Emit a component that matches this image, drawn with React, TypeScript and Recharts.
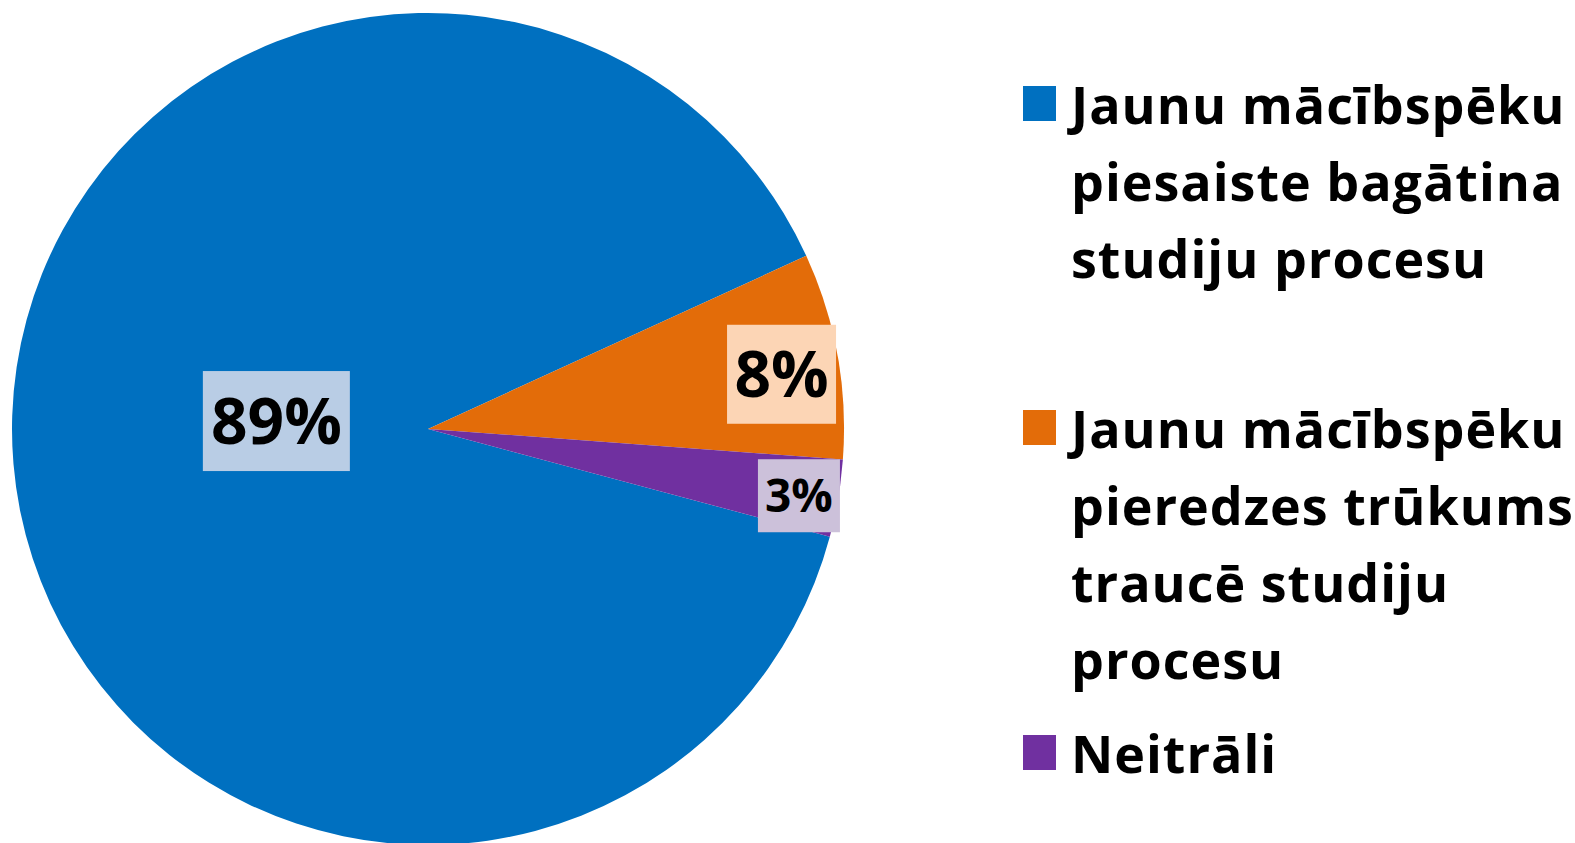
import { Cell, Legend, Pie, PieChart } from "recharts";

const categories = [
  "Jaunu mācībspēku\npiesaiste bagātina\nstudiju procesu",
  "Jaunu mācībspēku\npieredzes trūkums\ntraucē studiju\nprocesu",
  "Neitrāli",
];
const shares = [89, 8, 3];

const sliceColors = ["#0070C0", "#E36C09", "#7030A0"];
const labelFills = ["#B9CDE5", "#FCD5B5", "#CCC1DA"];
// label placement relative to each slice (radius fraction, angle shift from mid)
const labelRadius = [0.365, 0.86, 0.906];
const labelShift = [-7.8, -1.4, -0.6];
const labelBox = [
  { w: 147, h: 100, font: 64 },
  { w: 109, h: 99, font: 64 },
  { w: 82, h: 73, font: 46 },
];
const legendGaps = [65, 93, 17];

const data = categories.map((name, i) => ({ name, value: shares[i] }));

const RADIAN = Math.PI / 180;
const FONT = "'Open Sans', 'Noto Sans', sans-serif";

const renderLabel = (props: any) => {
  const { cx, cy, midAngle, outerRadius, index, percent } = props;
  const angle = midAngle + labelShift[index];
  const r = outerRadius * labelRadius[index];
  const x = cx + r * Math.cos(-angle * RADIAN);
  const y = cy + r * Math.sin(-angle * RADIAN);
  const box = labelBox[index];
  return (
    <g key={`lbl-${index}`}>
      <rect
        x={x - box.w / 2}
        y={y - box.h / 2}
        width={box.w}
        height={box.h}
        fill={labelFills[index]}
      />
      <text
        x={x}
        y={y + box.font * 0.36}
        textAnchor="middle"
        fontFamily={FONT}
        fontWeight={700}
        fontSize={box.font}
        fill="#000"
      >
        {`${Math.round(percent * 100)}%`}
      </text>
    </g>
  );
};

const renderLegend = (props: any) => {
  const items = [...(props.payload || [])].sort(
    (a: any, b: any) => categories.indexOf(a.value) - categories.indexOf(b.value)
  );
  return (
    <div
      style={{
        fontFamily: FONT,
        fontWeight: 700,
        fontSize: 52,
        letterSpacing: 1,
        lineHeight: "77px",
        color: "#000",
      }}
    >
      {items.map((entry: any, i: number) => (
        <div
          key={`leg-${i}`}
          style={{ position: "relative", marginTop: legendGaps[i], paddingLeft: 48, whiteSpace: "pre-line" }}
        >
          <div
            style={{
              position: "absolute",
              left: 0,
              top: 21,
              width: 33,
              height: 35,
              background: entry.color,
            }}
          />
          {entry.value}
        </div>
      ))}
    </div>
  );
};

const App = () => {
  return (
    <div style={{ position: "absolute", left: 0, top: 0, width: 1575, height: 843, background: "#fff" }}>
      <PieChart width={1575} height={843} margin={{ top: 0, right: 0, bottom: 0, left: 0 }}>
        <Pie
          data={data}
          dataKey="value"
          nameKey="name"
          cx={428}
          cy={429}
          outerRadius={416}
          startAngle={-15}
          endAngle={-375}
          stroke="none"
          labelLine={false}
          label={renderLabel}
          isAnimationActive={false}
        >
          {data.map((d, i) => (
            <Cell key={d.name} fill={sliceColors[i]} />
          ))}
        </Pie>
        <Legend
          layout="vertical"
          align="right"
          verticalAlign="top"
          content={renderLegend}
          wrapperStyle={{ position: "absolute", left: 1023, top: 0, width: 552 }}
        />
      </PieChart>
    </div>
  );
};

export default App;
